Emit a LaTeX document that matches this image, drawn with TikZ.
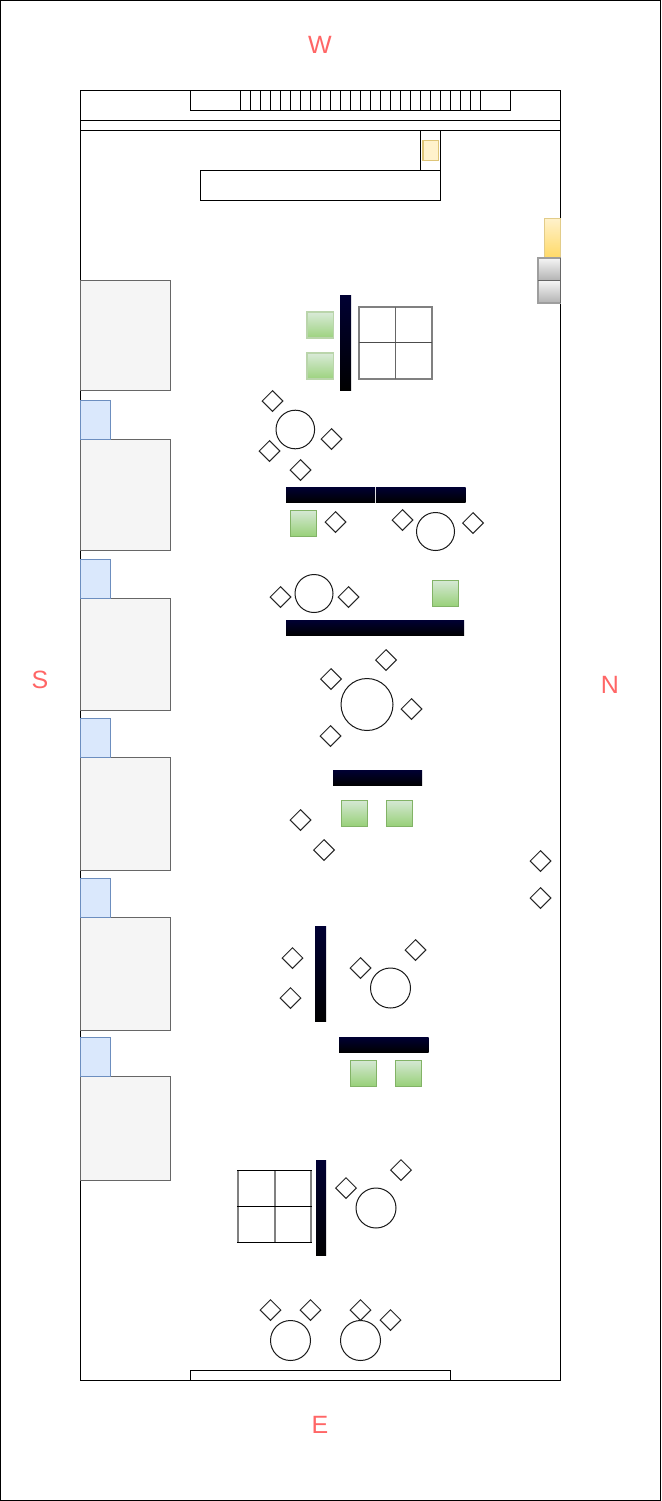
\documentclass[tikz,border=0pt]{standalone}
\usepackage{fontspec}
\setmainfont{Liberation Sans}
\definecolor{labelred}{HTML}{FF6666}
\definecolor{roomfill}{HTML}{F5F5F5}
\definecolor{roomline}{HTML}{666666}
\definecolor{bluefill}{HTML}{DAE8FC}
\definecolor{blueline}{HTML}{6C8EBF}
\definecolor{greentop}{HTML}{D5E8D4}
\definecolor{greenbot}{HTML}{97D077}
\definecolor{greenline}{HTML}{82B366}
\definecolor{yellowfill}{HTML}{FFF2CC}
\definecolor{yellowtop}{HTML}{FFF2CC}
\definecolor{yellowbot}{HTML}{FFD966}
\definecolor{yellowline}{HTML}{D6B656}
\definecolor{navytop}{HTML}{000033}
\tikzset{
  x=1pt,y=-1pt,
  wall/.style={draw=black,line width=1pt,fill=white},
  room/.style={draw=roomline,line width=1pt,fill=roomfill},
  bluebox/.style={draw=blueline,line width=1pt,fill=bluefill},
  greenbox/.style={draw=greenline,line width=1pt,top color=greentop,bottom color=greenbot},
  paleGreen/.style={draw=greenline!55!white,line width=1.2pt,top color=greentop!90!white,bottom color=greenbot!95!white},
  blackbar/.style={top color=navytop,bottom color=black,draw=none},
  seat/.style={draw=black!85,line width=1pt,fill=white},
  tablecircle/.style={draw=black!90,line width=1pt,fill=white},
  paleLine/.style={draw=black!50,line width=2pt,line cap=rect},
  innerV/.style={draw=black!60,line width=1.6pt},
  innerH/.style={draw=black!70,line width=1.2pt},
  blackH/.style={draw=black,line width=1pt},
  compass/.style={text=labelred,font=\fontsize{25}{25}\selectfont,inner sep=0pt},
}
\newcommand{\seatat}[2]{\path[seat] (#1-10.3,#2) -- (#1,#2-10.3) -- (#1+10.3,#2) -- (#1,#2+10.3) -- cycle;}
\newcommand{\greenat}[2]{\path[greenbox] (#1,#2) rectangle (#1+26.4,#2+26.4);}
\begin{document}
\begin{tikzpicture}
\useasboundingbox (0,0) rectangle (661,1501);
\path[draw=black,line width=1pt,fill=white] (0.5,0.5) rectangle (660.5,1500.5);
\path[wall] (80.5,90.5) rectangle (560.5,1380.5);
\draw[line width=1pt] (80.5,120.5) -- (560.5,120.5) (80.5,130.5) -- (560.5,130.5);
% top strip
\path[wall] (190.5,90.5) rectangle (510.5,110.5);
\foreach \t in {240,250,...,480} {\draw[line width=1pt] (\t.5,90.5) -- (\t.5,110.5);}
\foreach \t in {270,330,390} {\draw[line width=1.6pt] (\t.3,90.5) -- (\t.3,110.5);}
\path[wall] (420.5,130.5) rectangle (440.5,170.5);
\path[wall] (200.5,170.5) rectangle (440.5,200.5);
\path[draw=yellowline!80!white,line width=1.2pt,fill=yellowfill] (423,140.5) rectangle (438.5,160.5);
% north-side fixtures
\path[draw=yellowline!70!white,line width=1pt,top color=yellowtop,bottom color=yellowbot] (544.5,218) rectangle (560.5,258);
\path[draw=black!38,line width=1.5pt,top color=roomfill,bottom color=black!30] (538,258) rectangle (560.5,280.5);
\path[draw=black!38,line width=1.5pt,top color=roomfill,bottom color=black!30] (538,280.5) rectangle (560.5,303);
\draw[black!60,line width=1pt] (538,280.5) -- (560.5,280.5);
\draw[black!60,line width=1pt] (560.5,258) -- (560.5,303);
% south-side rooms
\path[room] (80.5,280.5) rectangle (170.5,390.5);
\path[room] (80.5,439.5) rectangle (170.5,550.5);
\path[room] (80.5,598.5) rectangle (170.5,710.5);
\path[room] (80.5,757.5) rectangle (170.5,870.5);
\path[room] (80.5,917.5) rectangle (170.5,1030.5);
\path[room] (80.5,1076.5) rectangle (170.5,1180.5);
\path[bluebox] (80.5,400.5) rectangle (110.5,439.5);
\path[bluebox] (80.5,559.5) rectangle (110.5,598.5);
\path[bluebox] (80.5,718.5) rectangle (110.5,757.5);
\path[bluebox] (80.5,878.5) rectangle (110.5,917.5);
\path[bluebox] (80.5,1037.5) rectangle (110.5,1076.5);
% group 1
\path[paleGreen] (307,312) rectangle (333.4,338);
\path[paleGreen] (307,353) rectangle (333.4,379);
\path[blackbar] (340,295) rectangle (351,390.7);
\draw[paleLine] (359,307) rectangle (432,379);
\draw[innerV] (395.5,307) -- (395.5,379);
\draw[innerH] (359,342.8) -- (432,342.8);
\path[tablecircle] (295.3,429.5) circle[radius=19.3];
\seatat{272.5}{401}\seatat{331.5}{439}\seatat{269.5}{451}\seatat{300.5}{470}
% group 2
\path[blackbar] (286,487) rectangle (375,502.7);
\path[blackbar] (376,487) rectangle (465.5,502.7);
\greenat{290.5}{510.5}
\seatat{335.5}{522}\seatat{402.5}{520}\seatat{473}{523}
\path[tablecircle] (435.5,531.5) circle[radius=19];
% group 3
\path[tablecircle] (314,593.5) circle[radius=19];
\seatat{280.5}{597}\seatat{348.5}{597}
\greenat{432.5}{580.5}
\path[blackbar] (286,620) rectangle (464,635.7);
% group 4
\path[tablecircle] (367,704.5) circle[radius=26];
\seatat{386}{660}\seatat{331}{679}\seatat{411.5}{709}\seatat{330.5}{736}
% group 5
\path[blackbar] (333,770) rectangle (422,785.7);
\greenat{341}{800.2}\greenat{386.5}{800.2}
\seatat{300.5}{820}\seatat{324}{850}\seatat{540.5}{861}\seatat{540.5}{898}
% group 6
\path[blackbar] (315,926) rectangle (326,1021.7);
\seatat{292.5}{958}\seatat{290.5}{998}\seatat{360.5}{968}\seatat{415.5}{950}
\path[tablecircle] (390.5,988) circle[radius=20];
\path[blackbar] (339,1037) rectangle (428.5,1052.7);
\greenat{350.5}{1060.2}\greenat{395.3}{1060.2}
% group 7
\path[blackbar] (316,1160) rectangle (326,1255.7);
\draw[paleLine,line cap=butt] (238,1170) -- (238,1243) (274.5,1170) -- (274.5,1243) (311,1170) -- (311,1243);
\draw[blackH] (237,1170.5) -- (312,1170.5) (237,1206.5) -- (312,1206.5) (237,1242.5) -- (312,1242.5);
\seatat{346}{1188}\seatat{401}{1170}
\path[tablecircle] (376,1208) circle[radius=20];
% group 8
\path[tablecircle] (290.5,1340.5) circle[radius=20];
\path[tablecircle] (360.5,1340.5) circle[radius=20];
\seatat{270.5}{1310}\seatat{310.5}{1310}\seatat{360.5}{1310}\seatat{390.5}{1320}
\path[wall] (190.5,1370.5) rectangle (450.5,1380.5);
% compass
\node[compass] (w) at (320,45) {W};
\node[compass] (s) at (40,680) {S};
\node[compass] (n) at (610,685) {N};
\node[compass] (e) at (320,1425) {E};
\end{tikzpicture}
\end{document}
